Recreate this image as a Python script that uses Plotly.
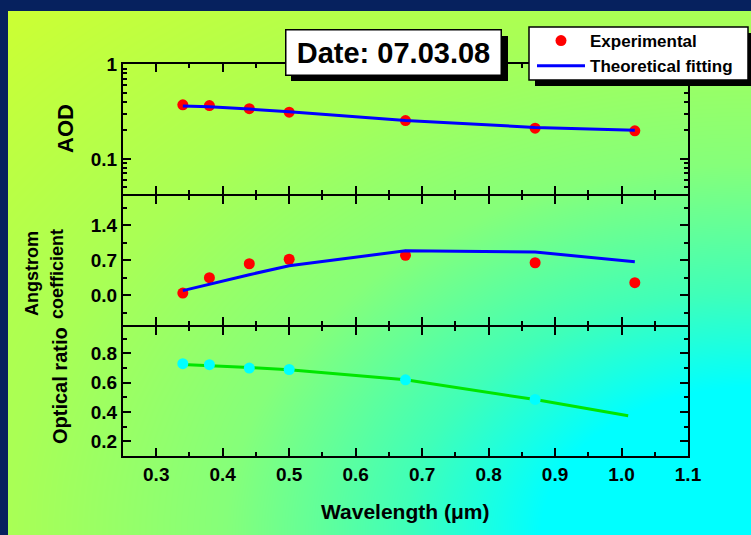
import numpy as np
import plotly.graph_objects as go

# ---------------- data ----------------
wavelength = [0.34, 0.38, 0.44, 0.50, 0.675, 0.87, 1.02]
aod_exp = [0.373, 0.366, 0.339, 0.312, 0.254, 0.211, 0.198]
aod_fit = [0.362, 0.355, 0.336, 0.315, 0.254, 0.215, 0.201]
ang_exp = [0.04, 0.35, 0.63, 0.72, 0.80, 0.65, 0.25]
ang_fit = [0.09, 0.22, 0.41, 0.59, 0.89, 0.865, 0.67]
ratio_wl = [0.34, 0.38, 0.44, 0.50, 0.675, 0.87]
ratio_exp = [0.73, 0.723, 0.70, 0.69, 0.62, 0.486]
ratio_fit_wl = [0.34, 0.38, 0.44, 0.50, 0.675, 0.87, 1.01]
ratio_fit = [0.725, 0.718, 0.703, 0.688, 0.62, 0.485, 0.375]

x_ticks = [0.3, 0.4, 0.5, 0.6, 0.7, 0.8, 0.9, 1.0, 1.1]
x_ticktext = ["0.3", "0.4", "0.5", "0.6", "0.7", "0.8", "0.9", "1.0", "1.1"]
aod_ticks = [0.1, 1]
aod_ticktext = ["0.1", "1"]
ang_ticks = [0.0, 0.7, 1.4]
ang_ticktext = ["0.0", "0.7", "1.4"]
ratio_ticks = [0.2, 0.4, 0.6, 0.8]
ratio_ticktext = ["0.2", "0.4", "0.6", "0.8"]

W, H = 751, 535
FONT = "Liberation Sans, Arial, sans-serif"


def px(x):
    return x / W


def py(y):
    return 1 - y / H


fig = go.Figure()

# ---------------- background gradient ----------------
u = np.linspace(0, 1, 90)
v = np.linspace(0, 1, 70)
U, V = np.meshgrid(u, v)
D = np.sqrt((1 - U) ** 2 + V ** 2) / np.sqrt(2)
fig.add_trace(go.Heatmap(
    x=u, y=v, z=D, xaxis="x", yaxis="y", zsmooth="best", showscale=False,
    hoverinfo="skip", zmin=0, zmax=1,
    colorscale=[[0, "#00ffff"], [0.2, "#00ffff"], [0.33, "#40ffb8"],
                [0.5, "#85ff7a"], [0.707, "#a9ff55"], [1, "#ccff33"]]))

# ---------------- data traces ----------------
fig.add_trace(go.Scatter(x=wavelength, y=aod_exp, mode="markers", name="Experimental",
                         marker=dict(color="#ff0000", size=11), xaxis="x2", yaxis="y2"))
fig.add_trace(go.Scatter(x=wavelength, y=aod_fit, mode="lines", name="Theoretical fitting",
                         line=dict(color="#0000ff", width=3), xaxis="x2", yaxis="y2"))
fig.add_trace(go.Scatter(x=wavelength, y=ang_exp, mode="markers", showlegend=False,
                         marker=dict(color="#ff0000", size=11), xaxis="x3", yaxis="y3"))
fig.add_trace(go.Scatter(x=wavelength, y=ang_fit, mode="lines", showlegend=False,
                         line=dict(color="#0000ff", width=3), xaxis="x3", yaxis="y3"))
fig.add_trace(go.Scatter(x=ratio_fit_wl, y=ratio_fit, mode="lines", showlegend=False,
                         line=dict(color="#00e600", width=3), xaxis="x4", yaxis="y4"))
fig.add_trace(go.Scatter(x=ratio_wl, y=ratio_exp, mode="markers", showlegend=False,
                         marker=dict(color="#00ffff", size=11), xaxis="x4", yaxis="y4"))

xdom = [px(123), px(688)]
# adjacent panels are offset by the axis line width so shared borders overlap
panels = {
    2: [py(193.5), py(64.3)],
    3: [py(325), py(195.5)],
    4: [py(456), py(327)],
}

tickfont = dict(family=FONT, size=19, color="black", weight="bold")


def xaxis(anchor, labels):
    return dict(domain=xdom, anchor=anchor, range=[0.25, 1.1], showline=True,
                linecolor="black", linewidth=2, mirror="ticks", ticks="inside",
                ticklen=8, tickwidth=2, tickcolor="black", tickvals=x_ticks,
                ticktext=x_ticktext, showticklabels=labels, showgrid=False,
                zeroline=False, tickfont=tickfont, fixedrange=True, automargin=False,
                minor=dict(ticks="inside", ticklen=4, tickwidth=2, tickcolor="black",
                           tickvals=[0.35, 0.45, 0.55, 0.65, 0.75, 0.85, 0.95, 1.05],
                           showgrid=False))


def yaxis(anchor, dom, **kw):
    d = dict(domain=dom, anchor=anchor, showline=True, linecolor="black", linewidth=2,
             mirror="ticks", ticks="inside", ticklen=8, tickwidth=2, tickcolor="black",
             showgrid=False, zeroline=False, tickfont=tickfont, fixedrange=True,
             automargin=False)
    d.update(kw)
    return d


fig.update_layout(
    width=W, height=H,
    margin=dict(l=0, r=0, t=0, b=0, pad=0, autoexpand=False),
    paper_bgcolor="#06215e",
    plot_bgcolor="rgba(0,0,0,0)",
    xaxis=dict(domain=[px(8), 1], range=[0, 1], visible=False, fixedrange=True,
               automargin=False),
    yaxis=dict(domain=[0, py(11)], range=[0, 1], visible=False, fixedrange=True,
               automargin=False),
    xaxis2=xaxis("y2", False),
    xaxis3=xaxis("y3", False),
    xaxis4=xaxis("y4", True),
    yaxis2=yaxis("x2", panels[2], type="log", range=[np.log10(0.043), 0],
                 tickvals=aod_ticks, ticktext=aod_ticktext,
                 minor=dict(ticks="inside", ticklen=4, tickwidth=2, tickcolor="black",
                            tickvals=[0.05, 0.06, 0.07, 0.08, 0.09, 0.2, 0.3, 0.4,
                                      0.5, 0.6, 0.7, 0.8, 0.9], showgrid=False)),
    yaxis3=yaxis("x3", panels[3], range=[-0.6, 2.0], tickvals=ang_ticks,
                 ticktext=ang_ticktext,
                 minor=dict(ticks="inside", ticklen=4, tickwidth=2, tickcolor="black",
                            tickvals=[-0.35, 0.35, 1.05, 1.75], showgrid=False)),
    yaxis4=yaxis("x4", panels[4], range=[0.1, 0.98], tickvals=ratio_ticks,
                 ticktext=ratio_ticktext,
                 minor=dict(ticks="inside", ticklen=4, tickwidth=2, tickcolor="black",
                            tickvals=[0.3, 0.5, 0.7, 0.9], showgrid=False)),
    showlegend=True,
    legend=dict(x=px(532), y=py(23), xanchor="left", yanchor="top",
                bgcolor="rgba(0,0,0,0)", borderwidth=0,
                font=dict(family=FONT, size=17, color="black", weight="bold"),
                itemwidth=48, tracegroupgap=0),
)

# date box shadow
fig.add_shape(type="rect", xref="paper", yref="paper", x0=px(291), x1=px(508),
              y0=py(81), y1=py(36), fillcolor="black", line=dict(width=0), layer="above")
# legend box shadow and frame
fig.add_shape(type="rect", xref="paper", yref="paper", x0=px(535), x1=1.0,
              y0=py(86), y1=py(33), fillcolor="black", line=dict(width=0), layer="above")
fig.add_shape(type="rect", xref="paper", yref="paper", x0=px(529), x1=px(748),
              y0=py(80), y1=py(27), fillcolor="white",
              line=dict(color="black", width=1.5), layer="above")

fig.add_annotation(xref="paper", yref="paper", x=px(393.5), y=py(52.5), xanchor="center",
                   yanchor="middle", text="Date: 07.03.08", showarrow=False,
                   font=dict(family=FONT, size=29, color="black", weight="bold"),
                   bgcolor="white", bordercolor="black", borderwidth=1.5,
                   width=210, height=40, borderpad=2)

titlefont = dict(family=FONT, color="black", weight="bold")


def title(x, y, text, size, angle=-90):
    fig.add_annotation(xref="paper", yref="paper", x=px(x), y=py(y), text=text,
                       textangle=angle, showarrow=False, xanchor="center",
                       yanchor="middle", font=dict(titlefont, size=size))


title(65, 129, "AOD", 22)
title(32, 274, "Angstrom", 18)
title(57, 274, "coefficient", 18)
title(60, 386, "Optical ratio", 20)
title(405, 511, "Wavelength (\u03bcm)", 21, angle=0)

fig.write_html(
    "out.html",
    config={"displayModeBar": False},
    post_script=(
        "document.body.style.margin='0';"
        "document.body.style.overflow='hidden';"
    ),
)
